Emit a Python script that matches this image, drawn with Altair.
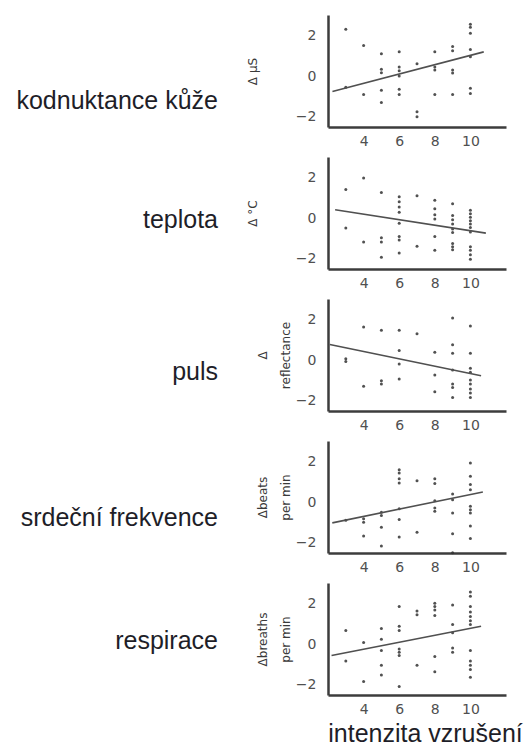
import altair as alt
import pandas as pd

# Row labels (measure names) and y-axis titles
measures = ["kodnuktance kůže", "teplota", "puls", "srdeční frekvence", "respirace"]
units = [["Δ μS"], ["Δ °C"], ["Δ", "reflectance"], ["Δbeats", "per min"], ["Δbreaths", "per min"]]

# Arousal intensity (x) and change score (y) for each measure
skin_x = [3, 3, 4, 4, 5, 5, 5, 5, 5, 6, 6, 6, 6, 6, 6, 7, 7, 7, 8, 8, 8, 8,
          9, 9, 9, 9, 9, 10, 10, 10, 10, 10, 10, 10]
skin_y = [2.3, -0.55, 1.5, -0.9, 1.1, 0.33, 0.16, -0.7, -1.3, 1.2, 0.45, 0.26, 0.0, -0.65, -0.9,
          0.6, -1.75, -2.0, 1.2, 0.45, 0.3, -0.9, 1.45, 1.25, 0.3, 0.15, -0.9,
          2.55, 2.4, 2.1, 1.3, 0.95, -0.6, -0.85]

temp_x = [3, 3, 4, 4, 5, 5, 5, 5, 6, 6, 6, 6, 6, 6, 6, 6, 7, 7, 8, 8, 8, 8, 8, 8,
          9, 9, 9, 9, 9, 9, 9, 9, 9, 10, 10, 10, 10, 10, 10, 10, 10, 10, 10, 10]
temp_y = [1.41, -0.49, 1.97, -1.18, 1.26, -0.96, -1.18, -1.92,
          1.05, 0.8, 0.54, 0.29, -0.25, -0.91, -1.08, -1.71, 1.1, -1.38,
          0.88, 0.46, 0.16, -0.04, -0.91, -1.58,
          0.71, 0.13, -0.08, -0.29, -0.54, -0.71, -1.25, -1.41, -1.55,
          0.38, 0.21, 0.04, -0.13, -0.29, -0.46, -0.68, -1.41, -1.58, -1.8, -2.02]

pulse_x = [3, 3, 4, 4, 5, 5, 5, 6, 6, 6, 6, 7, 8, 8, 8, 9, 9, 9, 9, 9, 9, 9,
           10, 10, 10, 10, 10, 10, 10, 10, 10]
pulse_y = [0.06, -0.07, 1.62, -1.29, 1.46, -1.01, -1.18, 1.46, 0.47, -0.19, -0.93, 1.29,
           0.39, -0.73, -1.56, 2.07, 0.75, 0.34, -0.49, -1.18, -1.34, -1.84,
           1.67, 0.34, -0.4, -0.6, -0.98, -1.18, -1.42, -1.62, -1.84]

hr_x = [3, 4, 4, 4, 5, 5, 5, 5, 6, 6, 6, 6, 6, 6, 6, 7, 7, 8, 8, 8, 8, 8,
        9, 9, 9, 9, 9, 10, 10, 10, 10, 10, 10, 10, 10, 10]
hr_y = [-0.89, -0.82, -0.99, -1.67, -0.5, -0.66, -1.23, -2.16,
        1.59, 1.43, 1.15, 0.94, -0.33, -0.86, -1.72, 1.05, -1.48,
        1.15, 0.91, 0.07, -0.29, -0.45, 0.4, 0.12, -0.53, -1.56, -2.49,
        1.92, 1.27, 0.86, 0.61, -0.2, -0.37, -0.53, -1.18, -1.79]

resp_x = [3, 3, 4, 4, 5, 5, 5, 5, 5, 6, 6, 6, 6, 6, 6, 6, 7, 7, 7, 8, 8, 8, 8, 8, 8,
          9, 9, 9, 9, 9, 10, 10, 10, 10, 10, 10, 10, 10, 10, 10, 10, 10]
resp_y = [0.67, -0.83, 0.08, -1.84, 0.77, 0.24, -0.32, -1.04, -1.52,
          1.84, 0.88, 0.67, -0.24, -0.4, -0.56, -2.08, 1.63, 1.44, -1.04,
          2.0, 1.84, 1.68, 1.41, -0.61, -1.36, 1.92, 0.96, 0.56, -0.19, -0.4,
          2.56, 2.35, 1.84, 1.57, 1.36, 1.15, 0.96, -0.32, -0.83, -1.04, -1.25, -1.63]

# Fitted regression line end points (x start/end, y start/end) per measure
fit_x0 = [2.25, 2.4, 2.1, 2.24, 2.2]
fit_x1 = [10.75, 10.87, 10.6, 10.7, 10.6]
fit_y0 = [-0.76, 0.41, 0.77, -1.02, -0.56]
fit_y1 = [1.19, -0.74, -0.77, 0.5, 0.88]

xs = [skin_x, temp_x, pulse_x, hr_x, resp_x]
ys = [skin_y, temp_y, pulse_y, hr_y, resp_y]

W, H = 178, 112
label_y = [86, 63, 73, 77, 58]
AXIS_GRAY = "#505050"
TEXT_DARK = "#1e1e28"


def panel(i, last):
    pts = pd.DataFrame({"intenzita": xs[i], "delta": ys[i]})
    fit = pd.DataFrame({"intenzita": [fit_x0[i], fit_x1[i]], "delta": [fit_y0[i], fit_y1[i]]})
    lab = pd.DataFrame({"label": [measures[i]]})

    x_axis = dict(values=[4, 6, 8, 10], ticks=False, tickSize=0, grid=False,
                  labelPadding=7)
    if last:
        x_axis.update(title="intenzita vzrušení", titleFont="Liberation Sans",
                      titleFontSize=25, titleFontWeight="normal", titleColor=TEXT_DARK,
                      titleX=W / 2 + 8, titleY=26, titleBaseline="top", titleAlign="center")
    else:
        x_axis.update(title=None)

    two_line = len(units[i]) > 1
    y_axis = alt.Axis(values=[-2, -1, 0, 1, 2], ticks=False, tickSize=0, grid=False,
                      labelPadding=12, title=units[i] if two_line else units[i][0],
                      titleFont="DejaVu Sans", titleFontSize=12, titleFontWeight="normal",
                      titleColor="#3a3a3a", titleAngle=270, titleBaseline="middle",
                      titleAlign="center", titleX=-66 if two_line else -76, titleY=H / 2,
                      titleLineHeight=23)

    xenc = alt.X("intenzita:Q", scale=alt.Scale(domain=[2, 12], nice=False, zero=False),
                 axis=alt.Axis(**x_axis))
    yenc = alt.Y("delta:Q", scale=alt.Scale(domain=[-2.5, 3], nice=False, zero=False),
                 axis=y_axis)

    dots = alt.Chart(pts).mark_circle(size=9, color="#333333", opacity=0.85).encode(x=xenc, y=yenc)
    line = alt.Chart(fit).mark_line(color="#505050", strokeWidth=1.6).encode(
        x="intenzita:Q", y="delta:Q")
    name = alt.Chart(lab).mark_text(align="right", baseline="middle", font="Liberation Sans",
                                    fontSize=25, color=TEXT_DARK).encode(
        x=alt.value(-110), y=alt.value(label_y[i]), text="label:N")
    return alt.layer(dots, line, name).properties(width=W, height=H)


chart = alt.vconcat(*[panel(i, i == 4) for i in range(5)], spacing=9).properties(
    padding={"left": 16, "top": 15, "right": 2, "bottom": 1}
).configure_view(stroke=None).configure_axis(
    domainColor="#3c3c3c", domainWidth=2.5, labelFont="DejaVu Sans", labelFontSize=14,
    labelColor=AXIS_GRAY
)

chart.save("out.html", embed_options={"renderer": "svg", "actions": False})
